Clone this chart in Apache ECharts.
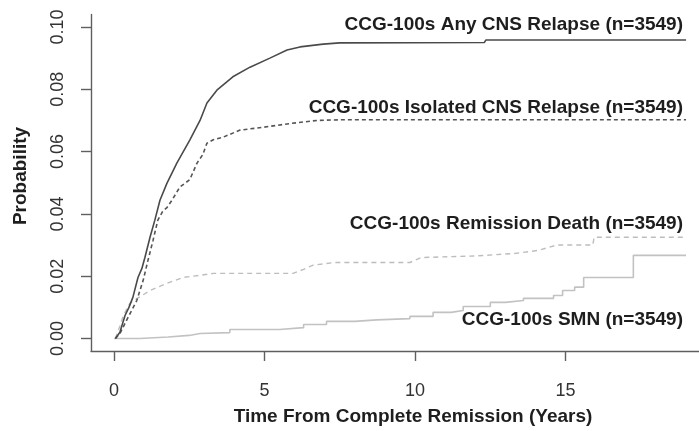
<!DOCTYPE html>
<html>
<head>
<meta charset="utf-8">
<script src="https://cdn.jsdelivr.net/npm/echarts@6.0.0/dist/echarts.min.js"></script>
<style>
  html, body { margin: 0; padding: 0; background: #fff; }
  #chart { width: 699px; height: 431px; }
</style>
</head>
<body>
<div id="chart"></div>
<script>
// cumulative incidence curves
const anyTime = [0.05, 0.2, 0.37, 0.5, 0.63, 0.8, 0.93, 1.03, 1.2, 1.36, 1.53, 1.76, 2.09, 2.52, 2.86, 3.09, 3.42, 3.95, 4.52, 5.18, 5.75, 6.18, 6.95, 7.5, 12.3, 12.35, 19.0];
const anyProb = [0, 0.002, 0.0074, 0.010, 0.0132, 0.0196, 0.0225, 0.026, 0.0325, 0.038, 0.0444, 0.0498, 0.0563, 0.0637, 0.070, 0.0756, 0.0797, 0.084, 0.0871, 0.090, 0.0926, 0.0936, 0.0945, 0.0949, 0.0950, 0.0958, 0.0958];

const isoTime = [0.05, 0.2, 0.47, 0.76, 0.97, 1.13, 1.3, 1.46, 1.63, 1.76, 1.93, 2.19, 2.52, 2.76, 2.95, 3.09, 3.3, 3.62, 4.19, 4.95, 5.85, 6.74, 7.5, 19.0];
const isoProb = [0, 0.0016, 0.0068, 0.0122, 0.0186, 0.025, 0.0315, 0.038, 0.041, 0.042, 0.0444, 0.0486, 0.051, 0.0563, 0.059, 0.0627, 0.0638, 0.0646, 0.0669, 0.0678, 0.069, 0.070, 0.0702, 0.0702];

const deathTime = [0.05, 0.2, 0.3, 0.43, 0.53, 0.76, 1.2, 1.76, 2.29, 2.86, 3.3, 5.95, 6.3, 6.6, 7.3, 9.83, 10.2, 12.0, 13.3, 14.1, 14.7, 15.9, 15.95, 19.0];
const deathProb = [0, 0.004, 0.007, 0.0095, 0.0113, 0.0128, 0.0154, 0.0177, 0.0196, 0.0203, 0.0209, 0.0209, 0.0222, 0.0235, 0.0244, 0.0244, 0.026, 0.0265, 0.0273, 0.0283, 0.030, 0.030, 0.0325, 0.0325];

const smnTime = [0, 0.86, 1.8, 2.5, 2.86, 3.85, 5.5, 6.3, 7.06, 8.0, 8.73, 9.83, 10.6, 11.2, 11.6, 12.5, 13.0, 13.6, 14.6, 14.9, 15.3, 15.6, 17.25, 19.0];
const smnProb = [0, 0.0005, 0.001, 0.0016, 0.0019, 0.0029, 0.0035, 0.0045, 0.0055, 0.006, 0.0064, 0.0071, 0.0084, 0.009, 0.0103, 0.0116, 0.0122, 0.0129, 0.0138, 0.0154, 0.0165, 0.0196, 0.0267, 0.0267];

const xTicks = [0, 5, 10, 15];
const yTicks = [0, 0.02, 0.04, 0.06, 0.08, 0.10];

const labels = [
    'CCG-100s Any CNS Relapse (n=3549)',
    'CCG-100s Isolated CNS Relapse (n=3549)',
    'CCG-100s Remission Death (n=3549)',
    'CCG-100s SMN (n=3549)'
];

const FONT = '"Liberation Sans", Arial, sans-serif';
const AXIS_COLOR = '#5f5f5f';

function zip(xs, ys) {
    return xs.map((x, i) => [x, ys[i]]);
}

const chart = echarts.init(document.getElementById('chart'), null, { renderer: 'canvas' });

const boldText = (text, x, y) => ({
    type: 'text',
    x: x,
    y: y,
    style: { text: text, font: 'bold 19px ' + FONT, fill: '#1e1e1e', textAlign: 'right', textVerticalAlign: 'middle' }
});

const option = {
    backgroundColor: '#fff',
    animation: false,
    grid: { left: 91, right: 0, top: 14.5, bottom: 80 },
    xAxis: {
        type: 'value',
        min: -0.76,
        max: 19.43,
        axisLine: { show: true, onZero: false, lineStyle: { color: AXIS_COLOR, width: 1.4 } },
        axisTick: { show: true, length: 10, customValues: xTicks, lineStyle: { color: AXIS_COLOR, width: 1.4 } },
        axisLabel: { customValues: xTicks, margin: 31, fontSize: 18, fontFamily: FONT, color: '#333' },
        splitLine: { show: false }
    },
    yAxis: {
        type: 'value',
        min: -0.004,
        max: 0.104,
        axisLine: { show: true, onZero: false, lineStyle: { color: AXIS_COLOR, width: 1.4 } },
        axisTick: { show: true, length: 10, customValues: yTicks, lineStyle: { color: AXIS_COLOR, width: 1.4 } },
        axisLabel: {
            customValues: yTicks, rotate: 90, margin: 24, fontSize: 18, fontFamily: FONT, color: '#333',
            formatter: v => v.toFixed(2)
        },
        splitLine: { show: false }
    },
    graphic: [
        {
            type: 'text', x: 413, y: 417,
            style: { text: 'Time From Complete Remission (Years)', font: 'bold 19px ' + FONT, fill: '#1e1e1e', textAlign: 'center', textVerticalAlign: 'middle' }
        },
        {
            type: 'text', x: 21, y: 176, rotation: Math.PI / 2,
            style: { text: 'Probability', font: 'bold 19px ' + FONT, fill: '#1e1e1e', textAlign: 'center', textVerticalAlign: 'middle' }
        },
        boldText(labels[0], 683, 25),
        boldText(labels[1], 683, 108),
        boldText(labels[2], 683, 224),
        boldText(labels[3], 683, 320)
    ],
    series: [
        {
            name: 'SMN', type: 'line', step: 'end', showSymbol: false, z: 1,
            data: zip(smnTime, smnProb),
            lineStyle: { color: '#c2c2c2', width: 1.6 }
        },
        {
            name: 'Remission Death', type: 'line', showSymbol: false, z: 2,
            data: zip(deathTime, deathProb),
            lineStyle: { color: '#bdbdbd', width: 1.4, type: [5, 4] }
        },
        {
            name: 'Isolated CNS Relapse', type: 'line', showSymbol: false, z: 3,
            data: zip(isoTime, isoProb),
            lineStyle: { color: '#555', width: 1.6, type: [4, 3] }
        },
        {
            name: 'Any CNS Relapse', type: 'line', showSymbol: false, z: 4,
            data: zip(anyTime, anyProb),
            lineStyle: { color: '#4a4a4a', width: 1.6 }
        }
    ]
};

chart.setOption(option);
</script>
</body>
</html>
